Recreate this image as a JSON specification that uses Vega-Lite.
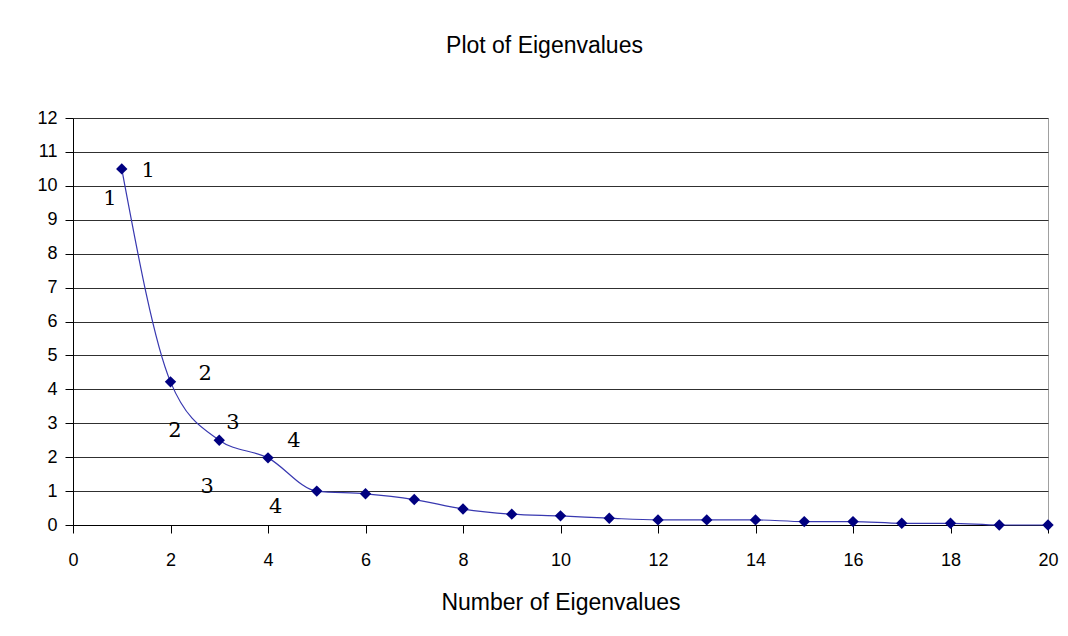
{
  "$schema": "https://vega.github.io/schema/vega-lite/v6.json",
  "width": 975,
  "height": 407,
  "autosize": {"type": "none"},
  "padding": {"left": 73, "top": 118, "right": 20, "bottom": 111},
  "background": "white",
  "config": {
    "font": "Liberation Sans",
    "view": {"stroke": "#a0a0a0", "strokeWidth": 1}
  },
  "title": {
    "text": "Plot of Eigenvalues",
    "fontSize": 23,
    "fontWeight": "normal",
    "font": "Liberation Sans",
    "color": "#000",
    "offset": 51,
    "dx": -16
  },
  "datasets": {
    "eig": [
      {"n": 1, "value": 10.5},
      {"n": 2, "value": 4.22},
      {"n": 3, "value": 2.5},
      {"n": 4, "value": 1.98},
      {"n": 5, "value": 1.0},
      {"n": 6, "value": 0.92},
      {"n": 7, "value": 0.75},
      {"n": 8, "value": 0.47},
      {"n": 9, "value": 0.32},
      {"n": 10, "value": 0.27},
      {"n": 11, "value": 0.2},
      {"n": 12, "value": 0.15},
      {"n": 13, "value": 0.15},
      {"n": 14, "value": 0.15},
      {"n": 15, "value": 0.1},
      {"n": 16, "value": 0.1},
      {"n": 17, "value": 0.05},
      {"n": 18, "value": 0.05},
      {"n": 19, "value": 0.0},
      {"n": 20, "value": 0.0}
    ],
    "labels": [
      {"n": 1.54, "value": 10.45, "text": "1"},
      {"n": 0.76, "value": 9.6, "text": "1"},
      {"n": 2.71, "value": 4.45, "text": "2"},
      {"n": 2.09, "value": 2.78, "text": "2"},
      {"n": 3.28, "value": 3.0, "text": "3"},
      {"n": 2.75, "value": 1.12, "text": "3"},
      {"n": 4.53, "value": 2.48, "text": "4"},
      {"n": 4.16, "value": 0.53, "text": "4"}
    ]
  },
  "encoding": {
    "x": {
      "field": "n", "type": "quantitative",
      "scale": {"domain": [0, 20], "nice": false, "zero": false},
      "axis": {
        "title": "Number of Eigenvalues",
        "titleFontSize": 23, "titleFontWeight": "normal", "titleColor": "#000",
        "titlePadding": 22,
        "values": [0, 2, 4, 6, 8, 10, 12, 14, 16, 18, 20],
        "labelFontSize": 18, "labelColor": "#000", "labelPadding": 18,
        "tickSize": 8, "tickColor": "#000", "domainColor": "#000",
        "grid": false, "labelFlush": false
      }
    },
    "y": {
      "field": "value", "type": "quantitative",
      "scale": {"domain": [0, 12], "nice": false},
      "axis": {
        "title": null,
        "values": [0, 1, 2, 3, 4, 5, 6, 7, 8, 9, 10, 11, 12],
        "labelFontSize": 18, "labelColor": "#000", "labelPadding": 8,
        "tickSize": 8, "tickColor": "#000", "domainColor": "#000",
        "grid": true, "gridColor": "#303030", "gridOpacity": 1, "gridWidth": 1,
        "labelFlush": false, "labelOverlap": false
      }
    }
  },
  "layer": [
    {
      "data": {"name": "eig"},
      "mark": {"type": "line", "interpolate": "monotone", "color": "#3838b0", "strokeWidth": 1.2}
    },
    {
      "data": {"name": "eig"},
      "mark": {"type": "point", "shape": "diamond", "filled": true, "color": "#000080", "size": 130, "opacity": 1}
    },
    {
      "data": {"name": "labels"},
      "mark": {"type": "text", "font": "DejaVu Serif", "fontSize": 21, "color": "#000", "align": "center", "baseline": "middle"},
      "encoding": {
        "text": {"field": "text"}
      }
    }
  ]
}
